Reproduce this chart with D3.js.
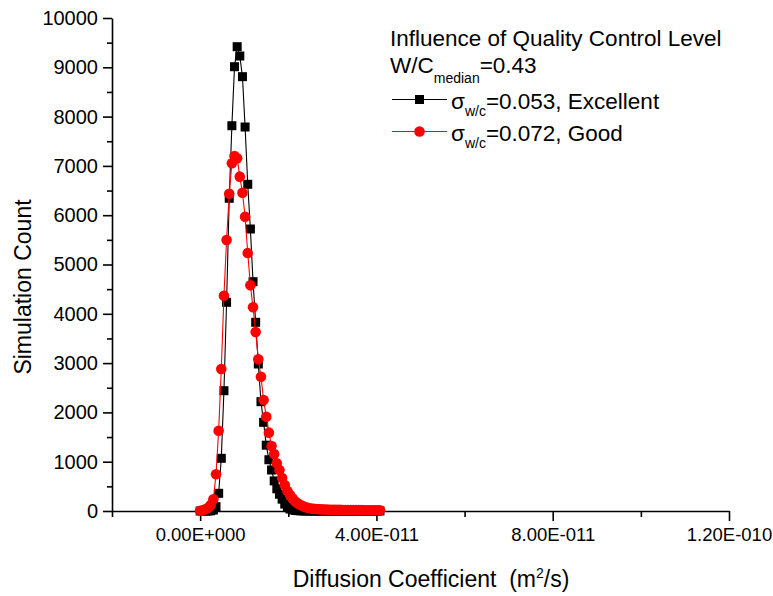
<!DOCTYPE html>
<html>
<head>
<meta charset="utf-8">
<script src="https://cdn.jsdelivr.net/npm/d3@7/dist/d3.min.js"></script>
<style>
  body { margin: 0; background: #fff; }
  svg { display: block; }
  text { font-family: Arial, "Liberation Sans", sans-serif; fill: #000; }
</style>
</head>
<body>
<svg id="chart" width="773" height="596"></svg>
<script>
// Diffusion coefficient bins (m^2/s)
const diffusion = [
  0, 0.6e-12, 1.2e-12, 1.8e-12, 2.4e-12, 3.0e-12, 3.6e-12, 4.2e-12, 4.8e-12, 5.4e-12,
  6.0e-12, 6.6e-12, 7.2e-12, 7.8e-12, 8.4e-12, 9.0e-12, 9.6e-12, 10.2e-12, 10.8e-12, 11.4e-12,
  12.0e-12, 12.6e-12, 13.2e-12, 13.8e-12, 14.4e-12, 15.0e-12, 15.6e-12, 16.2e-12, 16.8e-12, 17.4e-12,
  18.0e-12, 18.6e-12, 19.2e-12, 19.8e-12, 20.4e-12, 21.0e-12, 21.6e-12, 22.2e-12, 22.8e-12, 23.4e-12,
  24.0e-12, 24.6e-12, 25.2e-12, 25.8e-12, 26.4e-12, 27.0e-12, 27.6e-12, 28.2e-12, 28.8e-12, 29.4e-12,
  30.0e-12, 30.6e-12, 31.2e-12, 31.8e-12, 32.4e-12, 33.0e-12, 33.6e-12, 34.2e-12, 34.8e-12, 35.4e-12,
  36.0e-12, 36.6e-12, 37.2e-12, 37.8e-12, 38.4e-12, 39.0e-12, 39.6e-12, 40.2e-12, 40.8e-12
];

// Simulation counts, sigma_w/c = 0.053 (Excellent)
const countExcellent = [
  0, 0, 0, 0, 5, 20, 87, 359, 1069, 2440,
  4233, 6343, 7815, 9012, 9418, 9229, 8810, 7789, 6627, 5720,
  4651, 3828, 2982, 2217, 1799, 1335, 1040, 832, 610, 450,
  340, 240, 140, 70, 40, 22, 12, 7, 4, 2,
  1, 1, 0, 0, 0, 0, 0, 0, 0, 0,
  0, 0, 0, 0, 0, 0, 0, 0, 0, 0,
  0, 0, 0, 0, 0, 0, 0, 0, 0
];

// Simulation counts, sigma_w/c = 0.072 (Good)
const countGood = [
  5, 15, 35, 65, 120, 237, 744, 1629, 2880, 4367,
  5497, 6436, 7053, 7200, 7154, 6782, 6456, 5970, 5233, 4578,
  4132, 3631, 3077, 2724, 2252, 1913, 1589, 1318, 1156, 967,
  832, 670, 527, 406, 325, 254, 193, 152, 122, 95,
  75, 62, 52, 45, 40, 36, 33, 30, 28, 26,
  25, 24, 23, 22, 21, 20, 20, 19, 18, 18,
  17, 17, 16, 16, 15, 15, 14, 14, 13
];

const xTickValues = [0, 4e-11, 8e-11, 1.2e-10];
const xTickLabels = ["0.00E+000", "4.00E-011", "8.00E-011", "1.20E-010"];
const xMinorTicks = [-2e-11, 2e-11, 6e-11, 1e-10];
const yTickValues = [0, 1000, 2000, 3000, 4000, 5000, 6000, 7000, 8000, 9000, 10000];
const yMinorTicks = [500, 1500, 2500, 3500, 4500, 5500, 6500, 7500, 8500, 9500];

const svg = d3.select("#chart");

const x = d3.scaleLinear().domain([-2e-11, 1.2e-10]).range([112, 729]);
const y = d3.scaleLinear().domain([0, 10000]).range([511, 18]);

// ---- axes ----
const axisColor = "#000";
const gx = svg.append("g").attr("transform", `translate(0,${y(0)})`)
  .call(d3.axisBottom(x).tickValues(xTickValues)
    .tickFormat((d, i) => xTickLabels[i]).tickSize(10).tickSizeOuter(0).tickPadding(7));
const gxMinor = svg.append("g").attr("transform", `translate(0,${y(0)})`)
  .call(d3.axisBottom(x).tickValues(xMinorTicks).tickFormat("").tickSize(6));
gxMinor.select(".domain").remove();

const gy = svg.append("g").attr("transform", `translate(${x(-2e-11)},0)`)
  .call(d3.axisLeft(y).tickValues(yTickValues).tickFormat(d3.format("d"))
    .tickSize(9).tickSizeOuter(0).tickPadding(5));
const gyMinor = svg.append("g").attr("transform", `translate(${x(-2e-11)},0)`)
  .call(d3.axisLeft(y).tickValues(yMinorTicks).tickFormat("").tickSize(5));
gyMinor.select(".domain").remove();

[gx, gxMinor, gy, gyMinor].forEach(g => {
  g.selectAll("path, line").attr("stroke", axisColor).attr("stroke-width", 1.6);
});
gx.selectAll("text").attr("font-size", 18.5).attr("font-family", "Arial, 'Liberation Sans', sans-serif");
gy.selectAll("text").attr("font-size", 20).attr("font-family", "Arial, 'Liberation Sans', sans-serif");

// ---- axis titles ----
svg.append("text")
  .attr("transform", `translate(31,287) rotate(-90)`)
  .attr("text-anchor", "middle")
  .attr("font-size", 23)
  .text("Simulation Count");

const xt = svg.append("text")
  .attr("x", 431).attr("y", 587)
  .attr("text-anchor", "middle")
  .attr("font-size", 23);
xt.append("tspan").text("Diffusion Coefficient\u00a0\u00a0(m");
xt.append("tspan").attr("font-size", 14).attr("dy", -9).text("2");
xt.append("tspan").attr("dy", 9).text("/s)");

// ---- series ----
const dataExcellent = diffusion.map((d, i) => ({ x: d, y: countExcellent[i] }));
const dataGood = diffusion.map((d, i) => ({ x: d, y: countGood[i] }));
const line = d3.line().x(d => x(d.x)).y(d => y(d.y));

const sq = 9;
svg.append("path").datum(dataExcellent)
  .attr("d", line).attr("fill", "none").attr("stroke", "#000").attr("stroke-width", 1.1);
svg.append("g").selectAll("rect").data(dataExcellent).join("rect")
  .attr("x", d => x(d.x) - sq / 2).attr("y", d => y(d.y) - sq / 2)
  .attr("width", sq).attr("height", sq).attr("fill", "#000");

svg.append("path").datum(dataGood)
  .attr("d", line).attr("fill", "none").attr("stroke", "#ff0000").attr("stroke-width", 1.1);
svg.append("g").selectAll("circle").data(dataGood).join("circle")
  .attr("cx", d => x(d.x)).attr("cy", d => y(d.y))
  .attr("r", 5.3).attr("fill", "#ff0000");

// ---- legend ----
const lg = svg.append("g");
lg.append("text").attr("x", 390).attr("y", 46).attr("font-size", 22.5)
  .text("Influence of Quality Control Level");

const wc = lg.append("text").attr("x", 390).attr("y", 73).attr("font-size", 22.5);
wc.append("tspan").text("W/C");
wc.append("tspan").attr("font-size", 14).attr("dy", 10).text("median");
wc.append("tspan").attr("dy", -10).text("=0.43");

const legendRows = [
  { y: 99.5, color: "#000", shape: "square", value: "=0.053, Excellent" },
  { y: 131.5, color: "#ff0000", shape: "circle", value: "=0.072, Good" }
];
legendRows.forEach(r => {
  lg.append("line").attr("x1", 392).attr("x2", 447).attr("y1", r.y).attr("y2", r.y)
    .attr("stroke", r.color).attr("stroke-width", 1.1);
  if (r.shape === "square") {
    lg.append("rect").attr("x", 419.5 - sq / 2).attr("y", r.y - sq / 2)
      .attr("width", sq).attr("height", sq).attr("fill", r.color);
  } else {
    lg.append("circle").attr("cx", 419.5).attr("cy", r.y).attr("r", 5.3).attr("fill", r.color);
  }
  const t = lg.append("text").attr("x", 451).attr("y", r.y + 9.5).attr("font-size", 22.5);
  t.append("tspan").text("σ");
  t.append("tspan").attr("font-size", 14).attr("dy", 7).text("w/c");
  t.append("tspan").attr("dy", -7).text(r.value);
});
</script>
</body>
</html>
